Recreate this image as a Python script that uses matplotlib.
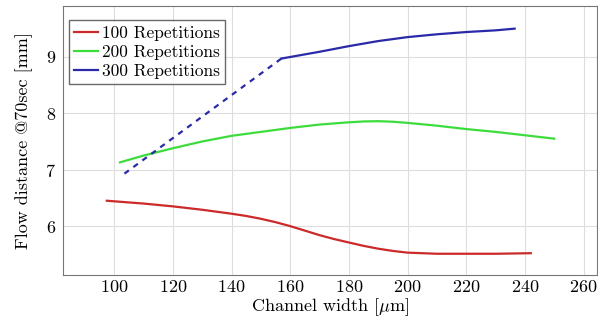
import matplotlib
matplotlib.use("Agg")
import matplotlib.pyplot as plt

plt.rcParams['font.family'] = 'serif'
plt.rcParams['font.serif'] = ['cmr10']
plt.rcParams['mathtext.fontset'] = 'cm'
plt.rcParams['axes.formatter.use_mathtext'] = True

# 100 repetitions
x100 = [97.5, 110, 120, 130, 140, 145, 150, 155, 160, 165, 170, 175, 180, 185, 190, 195, 200, 210, 220, 230, 242]
y100 = [6.45, 6.40, 6.35, 6.29, 6.22, 6.18, 6.13, 6.07, 6.00, 5.92, 5.84, 5.77, 5.71, 5.65, 5.60, 5.56, 5.53, 5.51, 5.51, 5.51, 5.52]

# 200 repetitions
x200 = [102, 110, 120, 130, 140, 150, 160, 170, 180, 185, 190, 195, 200, 210, 220, 230, 240, 250]
y200 = [7.13, 7.25, 7.38, 7.50, 7.60, 7.67, 7.74, 7.80, 7.84, 7.855, 7.86, 7.85, 7.83, 7.78, 7.72, 7.67, 7.61, 7.55]

# 300 repetitions (dashed part is extrapolated)
x300_dash = [103.5, 157]
y300_dash = [6.93, 8.97]
x300 = [157, 170, 180, 190, 200, 210, 220, 230, 236.5]
y300 = [8.97, 9.09, 9.19, 9.28, 9.35, 9.40, 9.44, 9.47, 9.50]

fig = plt.figure(figsize=(5.98, 3.2), dpi=100)
ax = fig.add_axes([0.105, 0.14, 0.893, 0.841])

ax.plot(x100, y100, color='#cc2a2a', lw=1.6, label='100 Repetitions')
ax.plot(x200, y200, color='#3ddc3d', lw=1.6, label='200 Repetitions')
ax.plot(x300, y300, color='#2a2aa8', lw=1.6, label='300 Repetitions')
ax.plot(x300_dash, y300_dash, color='#2a2aa8', lw=1.6, ls=(0, (2.5, 2.5)))

ax.set_xlim(82.5, 264.5)
ax.set_ylim(5.13, 9.9)
ax.set_xticks(range(100, 261, 20))
ax.set_yticks([6, 7, 8, 9])
ax.grid(True, color='#dddddd', lw=0.8)
ax.tick_params(labelsize=13, length=0, pad=3)
ax.tick_params(axis='y', pad=5)
for s in ax.spines.values():
    s.set_color('#777777')

ax.set_xlabel(r'Channel width [$\mu$m]', fontsize=13, labelpad=1)
ax.set_ylabel('Flow distance @70sec [mm]', fontsize=13, labelpad=9)

leg = ax.legend(loc='upper left', bbox_to_anchor=(0.011, 0.948), fontsize=12.5,
                frameon=True, fancybox=False, edgecolor='#444444',
                handlelength=1.4, handletextpad=0.2, labelspacing=0.22,
                borderpad=0.3, borderaxespad=0)
leg.get_frame().set_linewidth(1.0)

fig.savefig('out.png', dpi=100)
